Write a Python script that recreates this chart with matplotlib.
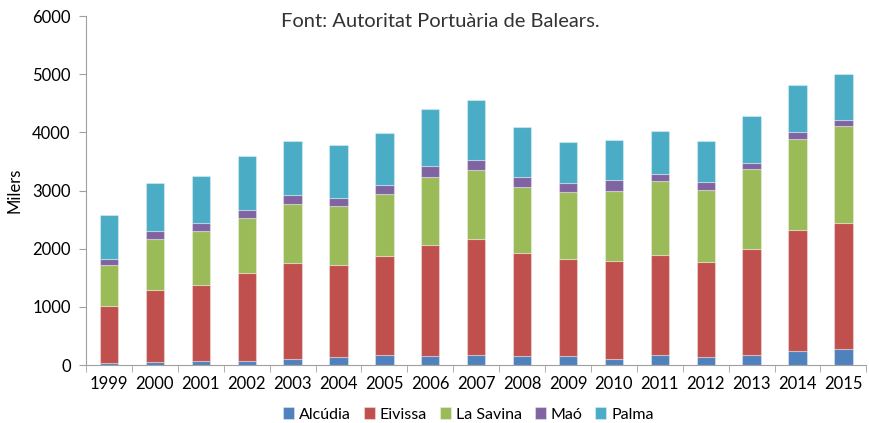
import numpy as np
import matplotlib.pyplot as plt
from matplotlib.ticker import MultipleLocator

plt.rcParams['font.family'] = ['Lato', 'DejaVu Sans']

years = ['1999', '2000', '2001', '2002', '2003', '2004', '2005', '2006', '2007',
         '2008', '2009', '2010', '2011', '2012', '2013', '2014', '2015']
alcudia = [40, 46, 74, 74, 109, 137, 166, 155, 166, 149, 149, 97, 166, 143, 166, 246, 269]
eivissa = [979, 1237, 1306, 1512, 1638, 1586, 1712, 1912, 1993, 1770, 1678, 1696, 1730, 1627, 1833, 2074, 2165]
la_savina = [694, 882, 922, 940, 1014, 1014, 1060, 1163, 1192, 1139, 1151, 1197, 1266, 1248, 1369, 1563, 1673]
mao = [114, 137, 133, 143, 165, 138, 160, 195, 166, 178, 154, 194, 126, 121, 114, 120, 114]
palma = [750, 830, 812, 922, 923, 905, 900, 979, 1048, 865, 705, 682, 744, 721, 802, 808, 791]

series = [('Alcúdia', alcudia, '#4F81BD'),
          ('Eivissa', eivissa, '#C0504D'),
          ('La Savina', la_savina, '#9BBB59'),
          ('Maó', mao, '#8064A2'),
          ('Palma', palma, '#4BACC6')]

fig = plt.figure(figsize=(8.69, 4.23), dpi=100)
ax = fig.add_axes([0.099, 0.137, 0.898, 0.825])

x = np.arange(len(years))
bottom = np.zeros(len(years))
for name, vals, col in series:
    ax.bar(x, vals, width=0.4, bottom=bottom, color=col, label=name,
           edgecolor=(1, 1, 1, 0.35), linewidth=0.8)
    bottom += np.array(vals)

ax.set_xlim(-0.5, len(years) - 0.5)
ax.set_ylim(0, 6000)
ax.yaxis.set_major_locator(MultipleLocator(1000))
ax.set_xticks(x)
ax.set_xticklabels(years)
ax.set_xticks(np.arange(len(years) + 1) - 0.5, minor=True)
ax.tick_params(axis='x', which='major', length=0, pad=8, labelsize=12)
ax.tick_params(axis='x', which='minor', length=5, color='#A0A0A0')
ax.tick_params(axis='y', length=5, color='#A0A0A0', labelsize=12, pad=6)

for s in ['top', 'right']:
    ax.spines[s].set_visible(False)
for s in ['left', 'bottom']:
    ax.spines[s].set_color('#A0A0A0')

ax.set_ylabel('Milers', fontsize=12, labelpad=7)
ax.text(0.454, 1.01, 'Font: Autoritat Portuària de Balears.', transform=ax.transAxes,
        ha='center', va='top', fontsize=14.5, color='#333333')

ax.legend(loc='upper center', bbox_to_anchor=(0.49, -0.08), ncol=5, frameon=False,
          fontsize=11.5, handlelength=0.7, handleheight=0.7, handletextpad=0.3,
          columnspacing=0.8)

fig.savefig('out.png', dpi=100)
